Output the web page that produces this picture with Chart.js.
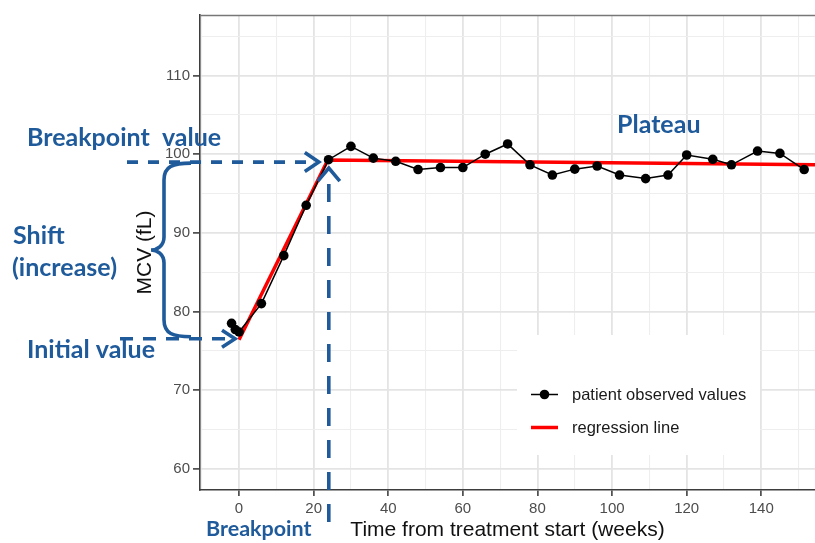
<!DOCTYPE html>
<html>
<head>
<meta charset="utf-8">
<title>MCV over time</title>
<script src="https://cdn.jsdelivr.net/npm/chart.js@4.4.1/dist/chart.umd.min.js"></script>
<style>
  html, body { margin: 0; padding: 0; background: #ffffff; }
  canvas { display: block; }
</style>
</head>
<body>
<canvas id="chart" width="815" height="543"></canvas>
<script>
// Patient measurements: weeks from treatment start and MCV (fL)
const weeks = [-2, -1, 0, 6, 12, 18, 24, 30, 36, 42, 48, 54, 60, 66, 72, 78, 84, 90, 96, 102, 109, 115, 120, 127, 132, 139, 145, 151.5];
const mcv = [78.5, 77.7, 77.4, 81.0, 87.1, 93.5, 99.3, 101.0, 99.5, 99.1, 98.05, 98.3, 98.3, 100.0, 101.3, 98.65, 97.35, 98.1, 98.5, 97.35, 96.9, 97.35, 99.9, 99.35, 98.65, 100.4, 100.1, 98.05];

// Segmented regression: initial value, breakpoint, end of plateau
const fitWeeks = [0, 23.8, 154.4];
const fitMcv = [76.4, 99.25, 98.65];

// Axis ranges and label steps
const xRange = [-10.46, 154.4];
const yRange = [57.3, 117.7];
const xLabelStep = 20;
const yLabelStep = 10;

const seriesNames = ['patient observed values', 'regression line'];

const BLUE = '#1f5a9b';
const AXIS_FONT = '"Liberation Sans", Arial, sans-serif';
const NOTE_FONT = 'Lato, "Open Sans", sans-serif';

const toPoints = (xs, ys) => xs.map((x, i) => ({ x: x, y: ys[i] }));
const isMajor = (v, step) => Math.abs(Math.round(v) % step) === 0;

// White legend panel sitting on the grid, plus top panel border
const panelPlugin = {
  id: 'panel',
  beforeDatasetsDraw(chart) {
    const { ctx, chartArea } = chart;
    ctx.save();
    ctx.strokeStyle = '#777777';
    ctx.lineWidth = 1.5;
    ctx.beginPath();
    ctx.moveTo(chartArea.left, chartArea.top + 0.5);
    ctx.lineTo(chartArea.right, chartArea.top + 0.5);
    ctx.stroke();
    ctx.fillStyle = '#ffffff';
    ctx.fillRect(517, 335, 243, 120);
    ctx.restore();
  },
  afterDatasetsDraw(chart) {
    const { ctx } = chart;
    const ds = chart.data.datasets;
    ctx.save();
    ctx.font = '16.5px ' + AXIS_FONT;
    ctx.textBaseline = 'middle';
    // observed values key
    ctx.strokeStyle = ds[0].borderColor;
    ctx.lineWidth = ds[0].borderWidth;
    ctx.beginPath();
    ctx.moveTo(531, 394.5);
    ctx.lineTo(558, 394.5);
    ctx.stroke();
    ctx.fillStyle = ds[0].pointBackgroundColor;
    ctx.beginPath();
    ctx.arc(544.5, 394.5, ds[0].pointRadius, 0, Math.PI * 2);
    ctx.fill();
    ctx.fillStyle = '#1a1a1a';
    ctx.fillText(ds[0].label, 572, 395);
    // regression key
    ctx.strokeStyle = ds[1].borderColor;
    ctx.lineWidth = ds[1].borderWidth;
    ctx.beginPath();
    ctx.moveTo(531, 427.5);
    ctx.lineTo(558, 427.5);
    ctx.stroke();
    ctx.fillText(ds[1].label, 572, 428);
    ctx.restore();
  }
};

// Blue explanatory arrows, brace and captions
const notesPlugin = {
  id: 'notes',
  afterDraw(chart) {
    const { ctx } = chart;
    const xs = chart.scales.x, ys = chart.scales.y;
    const bpX = xs.getPixelForValue(fitWeeks[1]);
    const bpY = ys.getPixelForValue(fitMcv[1]);
    const inX = xs.getPixelForValue(fitWeeks[0]);
    const inY = ys.getPixelForValue(fitMcv[0]);

    ctx.save();
    ctx.strokeStyle = BLUE;
    ctx.fillStyle = BLUE;
    ctx.lineWidth = 3.6;
    ctx.lineCap = 'butt';
    ctx.lineJoin = 'miter';

    const dashed = (x1, y1, x2, y2, pattern) => {
      ctx.setLineDash(pattern);
      ctx.beginPath();
      ctx.moveTo(x1, y1);
      ctx.lineTo(x2, y2);
      ctx.stroke();
      ctx.setLineDash([]);
    };
    const chevron = (pts) => {
      ctx.beginPath();
      ctx.moveTo(pts[0][0], pts[0][1]);
      ctx.lineTo(pts[1][0], pts[1][1]);
      ctx.lineTo(pts[2][0], pts[2][1]);
      ctx.stroke();
    };

    // breakpoint value: horizontal arrow
    const hy = bpY + 2;
    const hTip = bpX - 9;
    dashed(127, hy, hTip - 4, hy, [11, 10]);
    chevron([[hTip - 14, hy - 9.5], [hTip, hy], [hTip - 14, hy + 9.5]]);

    // breakpoint: vertical arrow
    const vx = bpX + 1;
    const vTip = bpY + 8;
    dashed(vx, vTip + 16, vx, 530, [18, 14]);
    chevron([[vx - 11, vTip + 13], [vx, vTip], [vx + 11, vTip + 13]]);

    // initial value: horizontal arrow
    const iy = inY - 1;
    const iTip = inX - 4;
    dashed(120, iy, iTip - 4, iy, [13, 10]);
    chevron([[iTip - 13, iy - 8.5], [iTip, iy], [iTip - 13, iy + 8.5]]);

    // shift brace
    const bt = hy + 1, bb = iy - 2, bm = (bt + bb) / 2;
    const bxR = 191, bxV = 164, bxC = 151;
    ctx.beginPath();
    ctx.moveTo(bxR, bt);
    ctx.bezierCurveTo(173, bt, bxV, bt + 3, bxV, bt + 17);
    ctx.lineTo(bxV, bm - 13);
    ctx.bezierCurveTo(bxV, bm - 4, bxC + 6, bm, bxC, bm);
    ctx.bezierCurveTo(bxC + 6, bm, bxV, bm + 4, bxV, bm + 13);
    ctx.lineTo(bxV, bb - 17);
    ctx.bezierCurveTo(bxV, bb - 3, 173, bb, bxR, bb);
    ctx.stroke();

    // captions
    ctx.textBaseline = 'alphabetic';
    ctx.textAlign = 'left';
    ctx.font = 'bold 25px ' + NOTE_FONT;
    ctx.fillText('Breakpoint  value', 27, 146);
    ctx.fillText('Plateau', 617, 133);
    ctx.fillText('Shift', 13, 244);
    ctx.fillText('(increase)', 12, 276);
    ctx.fillText('Initial value', 27, 358);
    ctx.font = 'bold 21.5px ' + NOTE_FONT;
    ctx.fillText('Breakpoint', 206, 536);
    ctx.restore();
  }
};

const gridColor = (step) => (c) => (c.tick && isMajor(c.tick.value, step)) ? '#e4e4e4' : '#eeeeee';
const gridWidth = (step) => (c) => (c.tick && isMajor(c.tick.value, step)) ? 1.8 : 1.1;
const tickMarkColor = (step) => (c) => (c.tick && isMajor(c.tick.value, step)) ? '#333333' : 'rgba(0,0,0,0)';

new Chart(document.getElementById('chart'), {
  type: 'line',
  data: {
    datasets: [
      {
        label: seriesNames[0],
        data: toPoints(weeks, mcv),
        borderColor: '#000000',
        borderWidth: 1.5,
        pointRadius: 4.8,
        pointBackgroundColor: '#000000',
        pointBorderWidth: 0,
        tension: 0
      },
      {
        label: seriesNames[1],
        data: toPoints(fitWeeks, fitMcv),
        borderColor: '#ff0000',
        borderWidth: 3.5,
        pointRadius: 0,
        tension: 0
      }
    ]
  },
  options: {
    responsive: false,
    devicePixelRatio: 1,
    animation: false,
    events: [],
    layout: { autoPadding: false, padding: { left: 0, right: 0, top: 15, bottom: 0 } },
    plugins: {
      legend: { display: false },
      tooltip: { enabled: false },
      title: { display: false }
    },
    scales: {
      x: {
        type: 'linear',
        min: xRange[0],
        max: xRange[1],
        afterFit(scale) {
          scale.height = 53;
          scale.paddingLeft = 0;
          scale.paddingRight = 0;
        },
        border: { display: true, color: '#3d3d3d', width: 1.6 },
        grid: {
          color: gridColor(xLabelStep),
          lineWidth: gridWidth(xLabelStep),
          tickColor: tickMarkColor(xLabelStep),
          tickLength: 6,
          tickWidth: 1.5
        },
        ticks: {
          stepSize: 10,
          includeBounds: false,
          autoSkip: false,
          maxRotation: 0,
          padding: 4,
          color: '#4d4d4d',
          font: { family: AXIS_FONT, size: 15 },
          callback: (v) => isMajor(v, xLabelStep) ? String(Math.round(v)) : ''
        },
        title: {
          display: true,
          text: 'Time from treatment start (weeks)',
          color: '#111111',
          font: { family: AXIS_FONT, size: 21 },
          padding: { top: 0, bottom: 0 }
        }
      },
      y: {
        type: 'linear',
        min: yRange[0],
        max: yRange[1],
        afterFit(scale) {
          scale.width = 200;
          scale.paddingTop = 0;
          scale.paddingBottom = 0;
        },
        border: { display: true, color: '#3d3d3d', width: 1.6 },
        grid: {
          color: gridColor(yLabelStep),
          lineWidth: gridWidth(yLabelStep),
          tickColor: tickMarkColor(yLabelStep),
          tickLength: 7,
          tickWidth: 1.5
        },
        ticks: {
          stepSize: 5,
          includeBounds: false,
          autoSkip: false,
          padding: 3,
          color: '#4d4d4d',
          font: { family: AXIS_FONT, size: 15 },
          callback: (v) => isMajor(v, yLabelStep) ? String(Math.round(v)) : ''
        },
        title: {
          display: true,
          text: 'MCV (fL)',
          color: '#111111',
          font: { family: AXIS_FONT, size: 21 },
          padding: { top: 133, bottom: 0 }
        }
      }
    }
  },
  plugins: [panelPlugin, notesPlugin]
});
</script>
</body>
</html>
